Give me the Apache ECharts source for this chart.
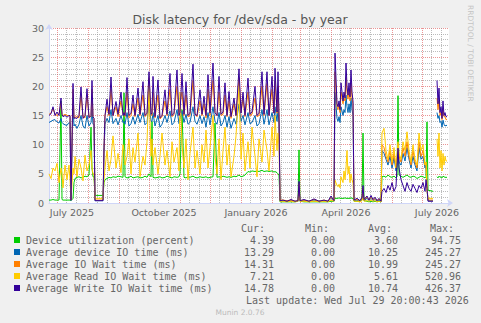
<!DOCTYPE html>
<html><head><meta charset="utf-8">
<script src="https://cdn.jsdelivr.net/npm/echarts@6/dist/echarts.min.js"></script>
<style>html,body{margin:0;padding:0;background:#F0F0F0}#c{width:481px;height:323px}</style>
</head><body><div id="c"></div>
<script>
// day offsets from 2025-06-23 (one year window, 400 days)
const days = [
  0,2,4,6,8,10,12,13,14,16,18,20,21,22,24,25,26,28,30,32,34,36,38,40,42,43,44,45,
  46,54,
  55,56,58,60,62,64,67,69,72,74,
  75,76,78,80,82,84,86,89,91,94,
  96,98,100,102,103,104,106,109,111,113,
  116,118,121,123,125,128,130,131,133,135,
  137,139,141,144,146,148,151,153,155,157,
  159,161,164,166,168,170,172,174,176,178,
  180,182,185,187,190,192,194,196,199,201,
  203,206,208,210,213,215,218,220,223,225,
  226,228,229,230,231,
  234,238,242,246,249,250,251,255,260,265,270,275,279,282,285,
  286,288,289,290,291,292,294,295,296,297,298,299,300,301,302,303,304,305,
  308,311,313,314,315,318,320,322,324,326,328,330,332,
  333,335,337,339,341,343,345,347,348,349,350,352,354,356,358,360,362,364,366,368,370,372,374,376,377,378,
  379,384,
  386,
  388,389,390,391,392,393,394,395,396,397,398
];
const utilPct = [
  0.5,0.5,0.6,0.5,0.5,0.5,17.5,0.6,0.5,0.5,0.5,0.5,0.5,0.4,0.8,3.5,4.2,4.4,4.5,4.3,4.4,4.6,4.5,4.8,13.0,6.0,4.5,4.5,
  1.3,1.3,
  3.5,4.0,4.2,4.4,4.3,4.5,4.4,4.6,4.5,4.4,
  18.9,4.5,4.3,4.4,4.6,4.3,4.4,4.5,4.3,4.4,
  4.6,4.4,5.0,4.5,14.0,4.4,4.3,4.4,4.5,4.3,
  4.4,4.6,4.4,4.3,4.5,4.4,4.5,5.0,16.0,4.4,
  4.3,4.5,4.4,4.6,4.4,4.3,4.5,4.4,4.4,4.5,
  4.3,4.4,4.5,13.7,4.4,4.5,4.4,4.6,4.5,4.4,
  4.5,4.4,4.6,4.5,4.8,4.5,4.6,4.8,5.4,5.3,
  5.5,5.4,5.5,5.4,5.6,5.4,5.5,5.4,5.5,5.3,
  5.4,5.2,5.0,4.8,0.2,
  0.2,0.2,0.2,0.2,0.3,9.1,0.3,0.2,0.2,0.2,0.2,0.2,0.2,0.3,0.3,
  0.8,0.8,0.8,0.9,0.8,0.8,0.8,0.8,0.9,0.8,0.8,0.8,0.8,0.8,0.9,0.8,0.8,0.3,
  0.3,0.2,0.5,12.0,0.4,0.3,0.2,0.3,0.2,0.3,0.2,0.3,0.2,
  4.5,4.6,4.4,4.8,4.5,4.4,4.6,4.3,4.5,18.4,4.8,4.6,4.4,4.6,4.8,4.5,4.4,4.6,4.5,4.2,4.4,4.6,4.5,4.3,4.5,13.9,
  2.2,2.0,
  null,
  4.5,4.3,4.6,4.4,4.5,4.3,4.6,4.5,4.4,4.4,4.4
];
const devIoTime = [
  13.8,14.0,14.2,14.3,13.9,13.7,14.5,13.8,13.6,13.4,13.3,13.8,13.7,0.4,17.0,13.2,13.5,12.8,13.5,15.0,13.2,12.8,15.0,13.2,13.8,16.0,13.5,13.5,
  0.4,0.4,
  8.5,13.5,14.5,13.8,16.0,13.6,14.5,13.4,15.0,13.8,
  14.0,13.5,15.5,13.2,13.6,14.8,13.5,15.2,13.8,15.5,
  13.4,13.8,17.0,14.0,14.0,15.5,13.2,15.0,13.0,13.5,
  15.0,13.8,15.8,13.4,13.8,16.0,13.6,14.5,15.8,13.8,
  15.2,13.5,13.8,16.5,14.0,13.5,15.0,13.6,14.8,13.0,
  15.5,13.4,16.5,14.0,13.5,15.5,13.2,13.8,15.0,13.0,
  14.8,12.8,14.5,13.5,17.0,14.0,15.0,13.4,15.5,13.6,
  13.8,15.0,13.2,13.6,16.0,13.5,16.0,13.4,15.5,13.8,
  16.5,14.0,16.0,13.5,0.4,
  0.4,0.3,0.4,0.3,0.3,2.8,0.3,0.4,0.3,0.5,0.3,0.4,0.3,0.8,0.3,
  19.0,14.5,14.0,14.8,13.8,16.5,15.0,16.0,15.5,18.5,16.5,15.5,17.0,15.5,18.0,16.0,15.0,0.4,
  0.5,0.3,0.6,2.0,0.4,0.8,0.4,0.8,0.4,0.6,0.3,0.5,0.3,
  9.0,8.5,7.5,6.5,8.0,6.0,7.8,5.5,6.5,9.0,7.0,6.5,8.5,7.2,9.5,7.5,6.0,8.0,6.5,5.5,9.5,7.5,8.0,6.0,6.5,2.5,
  0.4,0.4,
  null,
  15.5,14.5,15.0,13.8,14.0,13.0,14.2,13.5,13.2,13.3,13.3
];
const ioWait = [
  15.2,15.4,16.2,15.3,15.0,15.2,17.2,15.2,15.0,15.2,15.0,15.0,14.8,0.5,19.5,14.6,14.7,14.8,14.6,18.5,14.8,14.6,18.5,14.8,14.8,19.5,14.8,14.5,
  0.5,0.5,
  9.0,15.0,16.5,15.0,19.5,15.0,16.5,14.8,17.5,15.2,
  15.5,14.8,19.0,14.6,15.0,17.0,14.8,18.0,15.0,18.5,
  14.8,15.2,21.5,15.5,15.0,19.0,14.6,18.5,14.4,14.8,
  17.5,15.0,19.5,14.8,15.2,20.0,15.0,17.0,19.0,15.0,
  18.5,14.8,15.0,21.0,15.4,14.8,17.5,15.0,17.0,14.6,
  19.5,15.0,21.0,15.5,15.0,19.0,15.0,15.2,18.5,14.8,
  17.5,14.5,17.0,15.0,21.5,15.5,17.8,14.8,19.0,15.0,
  15.2,18.0,14.8,15.0,20.0,15.0,20.5,15.0,19.5,15.4,
  21.0,15.4,20.0,15.0,0.5,
  0.5,0.4,0.5,0.3,0.4,3.3,0.4,0.5,0.3,0.6,0.3,0.5,0.3,1.0,0.4,
  22.5,16.5,16.0,17.0,15.5,19.0,17.0,18.0,17.5,21.5,19.0,17.8,19.5,17.5,20.5,18.0,17.0,0.5,
  0.6,0.4,0.8,2.5,0.5,1.0,0.5,1.0,0.5,0.8,0.4,0.7,0.3,
  10.0,9.5,8.0,7.0,9.0,6.5,8.5,6.0,7.5,10.0,8.0,7.0,9.5,8.0,10.5,8.0,6.5,9.0,7.0,6.0,10.5,8.0,9.0,6.5,7.0,3.0,
  0.5,0.5,
  null,
  18.0,16.0,17.5,15.0,15.5,14.3,16.0,14.8,14.8,14.3,14.3
];
const readWait = [
  5.0,4.2,6.0,5.5,6.8,3.5,6.0,5.0,2.6,6.5,4.0,6.5,4.0,0.5,6.0,5.0,8.0,4.5,7.5,6.0,3.8,8.2,5.5,6.5,9.0,6.0,5.0,5.0,
  0.8,0.8,
  4.0,6.0,9.0,5.5,7.5,11.5,6.0,8.5,5.2,10.0,
  9.0,6.5,8.0,11.0,5.0,9.5,7.0,12.0,4.5,8.0,
  6.5,10.5,20.0,8.0,11.0,6.5,9.5,5.0,8.0,12.0,
  6.5,9.0,4.5,10.5,7.0,9.5,5.5,19.0,10.0,6.0,
  11.0,4.0,8.5,13.0,6.0,9.0,5.0,10.0,7.0,12.5,
  6.0,9.5,15.0,8.0,5.0,11.0,4.0,9.0,13.0,6.5,
  10.0,4.5,8.0,11.5,20.0,7.5,12.0,5.5,10.5,6.0,
  13.0,8.0,4.5,11.0,7.0,12.5,9.0,5.5,13.0,8.0,
  15.0,9.0,12.0,10.0,0.3,
  0.3,0.2,0.3,0.2,0.3,1.2,0.3,0.3,0.2,0.3,0.2,0.3,0.2,0.5,0.3,
  3.9,3.0,2.8,3.2,2.6,4.5,3.5,5.5,4.0,6.0,9.0,5.0,6.3,3.5,5.0,4.0,3.4,0.3,
  0.3,0.2,0.4,0.8,0.3,0.4,0.3,0.5,0.3,0.4,0.2,0.3,0.2,
  12.0,12.8,9.0,7.5,10.0,7.0,9.5,6.0,8.0,10.5,8.5,7.5,10.5,9.0,12.2,9.0,7.0,10.0,7.5,6.5,12.0,9.0,10.0,6.5,7.0,2.0,
  0.8,0.8,
  null,
  11.0,8.0,12.0,6.0,9.0,5.5,8.5,6.5,8.0,7.2,7.2
];
const writeWait = [
  15.0,15.3,16.5,15.0,15.6,15.0,18.0,15.2,14.8,15.0,14.7,15.0,15.0,0.5,20.5,14.5,14.6,14.5,15.0,19.9,14.5,15.0,19.6,14.6,15.0,21.0,14.8,14.5,
  0.4,0.4,
  9.5,15.0,17.8,15.2,21.6,15.0,17.4,15.2,19.0,15.0,
  15.5,15.0,21.5,15.0,15.4,18.5,15.0,19.7,15.2,20.8,
  15.0,15.4,22.5,15.2,15.5,21.7,14.8,21.1,14.6,15.0,
  19.4,15.2,22.2,15.0,15.4,22.8,15.0,15.5,22.2,15.2,
  20.8,15.0,15.4,23.8,15.2,15.0,19.4,15.2,18.3,15.0,
  22.0,15.4,24.0,15.5,15.0,21.7,15.2,15.6,20.6,15.0,
  19.1,14.8,18.0,15.0,23.0,15.4,19.0,15.0,21.4,15.2,
  15.6,20.0,15.0,15.4,22.5,15.2,22.5,15.0,21.7,15.4,
  23.1,15.6,22.5,15.0,0.4,
  0.5,0.3,0.6,0.3,0.4,3.7,0.4,0.6,0.3,0.7,0.3,0.5,0.3,1.2,0.4,
  25.7,17.0,16.5,17.5,16.0,20.6,17.5,19.0,18.0,24.0,20.0,18.5,20.6,18.2,22.8,19.0,17.5,0.5,
  0.8,0.4,1.0,3.0,0.6,1.2,0.5,1.3,0.6,1.0,0.4,0.8,0.3,
  2.0,2.5,1.8,3.0,2.2,3.5,2.0,2.8,6.5,9.4,6.0,4.0,3.0,2.0,3.5,2.5,2.0,3.2,2.5,1.8,3.0,2.5,3.5,2.0,4.0,2.5,
  0.3,0.3,
  null,
  21.0,17.0,19.7,15.5,16.5,14.5,17.5,15.0,15.5,14.8,14.8
];

const seriesNames = ['Device utilization (percent)','Average device IO time (ms)','Average IO Wait time (ms)','Average Read IO Wait time (ms)','Average Write IO Wait time (ms)'];
const seriesColors = ['#00CC00','#0066B3','#FF8000','#FFCC00','#330099'];
const curVals = ['4.39','13.29','14.31','7.21','14.78'];
const minVals = ['0.00','0.00','0.00','0.00','0.00'];
const avgVals = ['3.60','10.25','10.99','5.61','10.74'];
const maxVals = ['94.75','245.27','245.27','520.96','426.37'];
const monthNames = ['January','February','March','April','May','June','July','August','September','October','November','December'];
const labelMonths = ['01','04','07','10'];
const startUTC = Date.UTC(2025, 5, 23);
const dayCount = 401;

const dates = [];
for (let i = 0; i < dayCount; i++) dates.push(new Date(startUTC + i * 86400000).toISOString().slice(0, 10));

const valueSets = [utilPct, devIoTime, ioWait, readWait, writeWait];
const FONT = 'DejaVu Sans';
const MONO = 'DejaVu Sans Mono';
const TXT = '#666666';
const minorGrid = 'rgba(143,143,143,0.6)';
const majorGrid = 'rgba(222,79,79,0.6)';
const axisCol = '#CFD6F8';

const chart = echarts.init(document.getElementById('c'), null, {renderer: 'svg', width: 481, height: 323});

const graphics = [];
const rowY0 = 240, rowStep = 12;
const colRight = [274, 335, 398, 461];
const hdrRight = [265, 329, 392, 454];
['Cur:', 'Min:', 'Avg:', 'Max:'].forEach((h, k) => {
  graphics.push({type: 'text', x: hdrRight[k], y: 228.5, style: {text: h, fill: TXT, font: '10px ' + MONO, textAlign: 'right', textVerticalAlign: 'middle'}});
});
seriesNames.forEach((n, i) => {
  const y = rowY0 + i * rowStep;
  graphics.push({type: 'rect', shape: {x: 14, y: y - 3, width: 6, height: 6}, style: {fill: seriesColors[i]}});
  graphics.push({type: 'text', x: 26, y: y, style: {text: n, fill: TXT, font: '10px ' + MONO, textAlign: 'left', textVerticalAlign: 'middle'}});
  [curVals, minVals, avgVals, maxVals].forEach((arr, k) => {
    graphics.push({type: 'text', x: colRight[k], y: y, style: {text: arr[i], fill: TXT, font: '10px ' + MONO, textAlign: 'right', textVerticalAlign: 'middle'}});
  });
});
graphics.push({type: 'text', x: 246, y: 300, style: {text: 'Last update: Wed Jul 29 20:00:43 2026', fill: TXT, font: '10px ' + MONO, textAlign: 'left', textVerticalAlign: 'middle'}});
graphics.push({type: 'text', x: 240, y: 312.5, style: {text: 'Munin 2.0.76', fill: '#BBBBBB', font: '7.5px ' + FONT, textAlign: 'center', textVerticalAlign: 'middle'}});
graphics.push({type: 'text', x: 470, y: 5, rotation: -Math.PI / 2, style: {text: 'RRDTOOL / TOBI OETIKER', fill: '#C4C4C4', font: '7.5px ' + FONT, textAlign: 'left', textVerticalAlign: 'middle'}});
graphics.push({type: 'text', x: 240, y: 19, style: {text: 'Disk latency for /dev/sda - by year', fill: '#555555', font: '12.5px ' + FONT, textAlign: 'center', textVerticalAlign: 'middle'}});

const option = {
  backgroundColor: '#F0F0F0',
  animation: false,
  textStyle: {fontFamily: FONT},
  grid: {left: 49, top: 28, width: 400, height: 175, show: true, backgroundColor: '#FFFFFF', borderWidth: 0},
  xAxis: [
    {type: 'value', min: 0, max: 400, show: false},
    {type: 'category', data: dates, boundaryGap: false, position: 'bottom',
     axisLine: {show: true, lineStyle: {color: axisCol, width: 1}, symbol: ['none', 'arrow'], symbolSize: [6, 6], symbolOffset: [0, 4]},
     axisTick: {show: false},
     axisLabel: {
       interval: (idx, v) => v.slice(8) === '16' && labelMonths.includes(v.slice(5, 7)),
       formatter: v => monthNames[parseInt(v.slice(5, 7), 10) - 1] + ' ' + v.slice(0, 4),
       color: TXT, fontSize: 9.5, fontFamily: FONT, margin: 4
     },
     splitLine: {show: true, interval: (idx, v) => v.slice(8) === '01', lineStyle: {color: majorGrid, width: 1, type: [1, 1]}}
    },
    {type: 'category', data: dates, boundaryGap: false, position: 'top',
     axisLine: {show: false}, axisTick: {show: false}, axisLabel: {show: false},
     splitLine: {show: true, interval: (idx, v) => v.slice(8) === '10' || v.slice(8) === '20', lineStyle: {color: minorGrid, width: 1, type: [1, 1]}}
    }
  ],
  yAxis: {
    type: 'value', min: 0, max: 30, interval: 5,
    axisLine: {show: true, lineStyle: {color: axisCol, width: 1}, symbol: ['none', 'arrow'], symbolSize: [6, 6], symbolOffset: [0, 4]},
    axisTick: {show: false},
    axisLabel: {color: TXT, fontSize: 9.5, fontFamily: FONT, margin: 5},
    splitLine: {show: true, showMinLine: false, lineStyle: {color: majorGrid, width: 1, type: [1, 1]}},
    minorTick: {show: false, splitNumber: 5},
    minorSplitLine: {show: true, lineStyle: {color: minorGrid, width: 1, type: [1, 1]}}
  },
  graphic: graphics,
  series: valueSets.map((vals, i) => ({
    name: seriesNames[i], type: 'line', xAxisIndex: 0, yAxisIndex: 0,
    data: days.map((d, j) => [d, vals[j]]),
    showSymbol: false, symbol: 'none', connectNulls: false,
    lineStyle: {color: seriesColors[i], width: 1}, itemStyle: {color: seriesColors[i]},
    z: 2 + i
  }))
};
chart.setOption(option);
</script></body></html>
